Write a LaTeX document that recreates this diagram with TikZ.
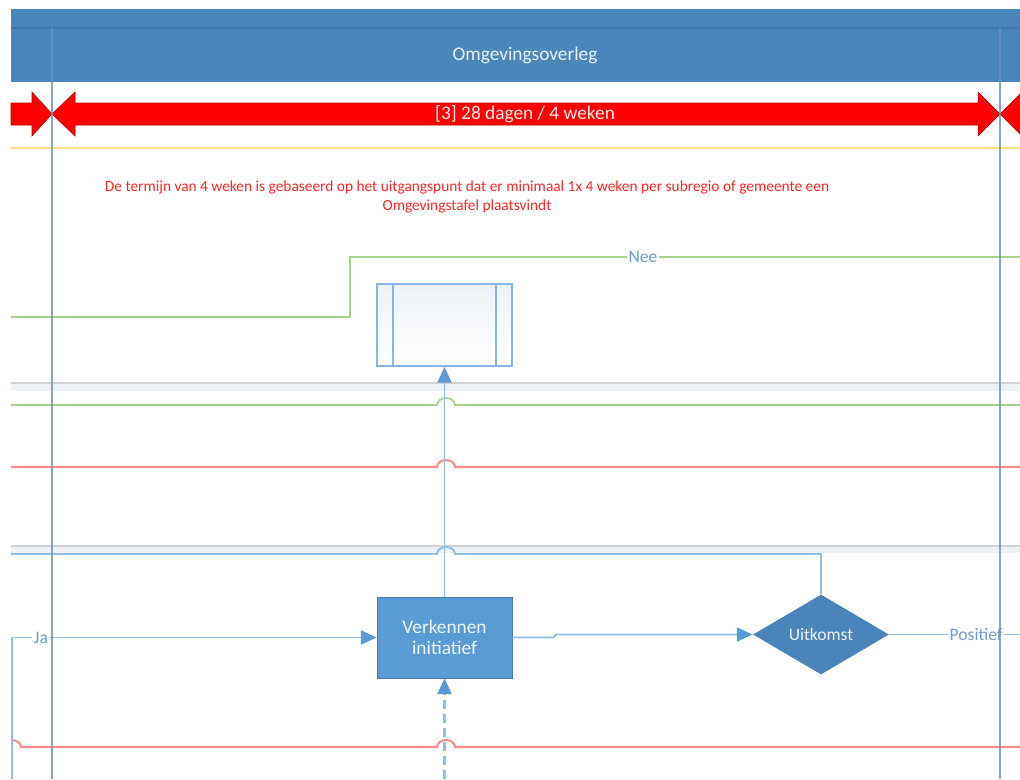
\documentclass[tikz,border=0pt]{standalone}
\usepackage{fontspec}
\setmainfont{Carlito}
\usetikzlibrary{arrows.meta,shapes.geometric,calc}
\definecolor{hdrblue}{HTML}{4A86BA}
\definecolor{hdrdark}{HTML}{3F77A8}
\definecolor{lanecol}{HTML}{6A8FBB}
\definecolor{connblue}{HTML}{94BDE4}
\definecolor{tipblue}{HTML}{5B9BD5}
\definecolor{taskblue}{HTML}{5B9BD5}
\definecolor{decblue}{HTML}{4A84B8}
\definecolor{greenln}{HTML}{A9D18E}
\definecolor{redln}{HTML}{FF8C8C}
\definecolor{yellowln}{HTML}{FFE08A}
\definecolor{sepgray}{HTML}{EDF0F5}
\definecolor{lbltext}{HTML}{6F9BCB}
\tikzset{
    conn/.style={draw=connblue, line width=1.1pt},
    tipped/.style={-{Triangle[length=9pt,width=8pt,color=tipblue]}},
    greenline/.style={draw=greenln, line width=1pt},
    redline/.style={draw=redln, line width=1.2pt},
    lane/.style={draw=lanecol, line width=1.2pt, opacity=0.8},
    lbl/.style={fill=white, inner sep=1pt, text=lbltext, font=\fontsize{10}{12}\selectfont},
    task/.style={fill=taskblue, draw=taskblue!80!black, line width=0.3pt, text=white!90!taskblue,
        minimum width=2.7cm, minimum height=1.62cm, align=center, font=\fontsize{11}{12}\selectfont},
    decision/.style={diamond, fill=decblue, text=white!90!decblue, inner sep=0pt,
        minimum width=2.72cm, minimum height=1.6cm, font=\fontsize{10}{12}\selectfont},
    subproc/.style={draw=connblue!80!tipblue, line width=0.9pt, top color=white!88!lanecol, bottom color=white,
        minimum width=2.7cm, minimum height=1.64cm},
}
\begin{document}
\begin{tikzpicture}[x=0.02cm,y=-0.02cm]
            \useasboundingbox (0,0) rectangle (1020,779);
            \clip (0,0) rectangle (1020,779);

            % header
            \fill[hdrblue] (11,9) rectangle (1020,82);
            \draw[hdrdark, line width=0.8pt] (11,28) -- (1020,28);
            \node[text=white!88!hdrblue, font=\fontsize{11}{12}\selectfont] (hdr) at (525,55) {Omgevingsoverleg};

            % duration arrows
            \fill[red, draw=red!70!black, line width=0.3pt] (11,103) -- (32,103) -- (32,92) -- (52,114) -- (32,136) -- (32,125) -- (11,125) -- cycle;
            \fill[red, draw=red!70!black, line width=0.3pt] (52,114) -- (75,92) -- (75,103) -- (978,103) -- (978,92) -- (1000,114)
                -- (978,136) -- (978,125) -- (75,125) -- (75,136) -- cycle;
            \fill[red, draw=red!70!black, line width=0.3pt] (1000,114) -- (1022,92) -- (1022,136) -- cycle;
            \node[text=white!92!red, font=\fontsize{11}{12}\selectfont] (dur) at (525,114) {[3] 28 dagen / 4 weken};

            \draw[yellowln, line width=1pt] (11,148) -- (1020,148);

            \node[text=red!85!white, align=center, font=\fontsize{8.75}{11.3}\selectfont] (note) at (467,197)
                {De termijn van 4 weken is gebaseerd op het uitgangspunt dat er minimaal 1x 4 weken per subregio of gemeente een\\Omgevingstafel plaatsvindt};

            % lane separators
            \fill[sepgray] (11,383) rectangle (1020,391);
            \draw[gray!35, line width=0.6pt] (11,383) -- (1020,383);
            \fill[sepgray] (11,546) rectangle (1020,553);
            \draw[gray!35, line width=0.6pt] (11,546) -- (1020,546);

            % shapes
            \node[subproc] (sub) at (444.5,325) {};
            \draw[draw=connblue!80!tipblue, line width=0.9pt] ($(sub.north west)+(17,0)$) -- ($(sub.south west)+(17,0)$);
            \draw[draw=connblue!80!tipblue, line width=0.9pt] ($(sub.north east)+(-17,0)$) -- ($(sub.south east)+(-17,0)$);
            \node[task] (verk) at (444.5,637.5) {Verkennen\\initiatief};
            \node[decision] (uit) at (821,634.5) {Uitkomst};

            % flows
            \draw[greenline] (11,317) -- (350,317) -- (350,257) -- (1020,257);
            \node[lbl] (nee) at (643,257) {Nee};
            \draw[greenline] (11,405) -- (437,405) arc[start angle=180,end angle=360,x radius=9,y radius=7] -- (1020,405);
            \draw[redline] (11,467) -- (437,467) arc[start angle=180,end angle=360,x radius=9,y radius=7] -- (1020,467);
            \draw[redline] (12,740) arc[start angle=-90,end angle=0,x radius=9,y radius=7] -- (437,747)
                arc[start angle=180,end angle=360,x radius=9,y radius=7] -- (1020,747);
            \draw[conn] (uit.north) |- (455,554) arc[start angle=0,end angle=-180,x radius=9,y radius=7] -- (11,554);

            \draw[conn, tipped] (verk.north) -- (sub.south);
            \coordinate (dashin) at (444.5,779);
            \draw[conn, tipped, dash pattern=on 5pt off 3pt, line width=1.3pt] (dashin) -- (verk.south);
            \coordinate (jain) at (12,779);
            \draw[conn, tipped] (jain) |- (verk.west);
            \node[lbl] (ja) at (41,637.5) {Ja};
            \draw[conn, tipped] (verk.east) -- ++(41,0) -- ++(3,-3) -- (uit.west);
            \coordinate (posout) at (1020,634.5);
            \draw[conn] (uit.east) -- (posout);
            \node[lbl] (pos) at (976,634.5) {Positief};

            % lane borders
            \draw[lane] (52,28) -- (52,779);
            \draw[lane] (1000,28) -- (1000,779);
        \end{tikzpicture}
\end{document}
